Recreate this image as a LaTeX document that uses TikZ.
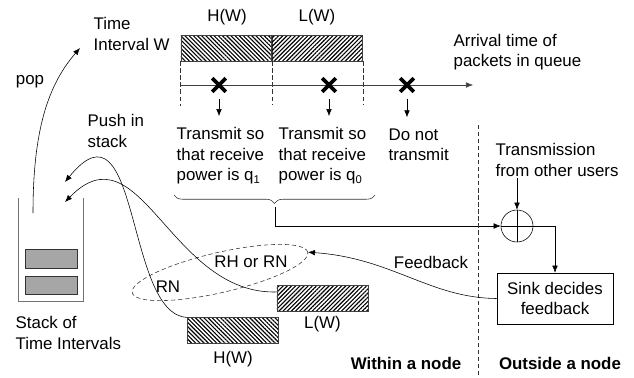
\documentclass[tikz,border=0pt]{standalone}
\usepackage{fontspec}
\setmainfont{Liberation Sans}
\usepackage{xcolor}
\usetikzlibrary{shapes.geometric, shapes.misc, arrows, positioning, calc, patterns, patterns.meta, arrows.meta, decorations.pathreplacing}

\tikzset{
    txt/.style={font=\fontsize{12}{14.6}\selectfont, inner sep=1pt, align=left},
    hatchbox/.style={draw=black!75, minimum width=2.275cm, minimum height=0.64cm, inner sep=0pt},
    hatchH/.style={hatchbox, pattern={Lines[angle=-45, distance=2.1pt, line width=0.8pt]}},
    hatchL/.style={hatchbox, pattern={Lines[angle=45, distance=2.1pt, line width=0.8pt]}},
    xmark/.style={draw, cross out, line width=2.6pt, minimum size=0.25cm, inner sep=0pt},
    dashline/.style={densely dashed, black!80},
}

\begin{document}
\begin{tikzpicture}[x=0.025cm, y=-0.025cm, >={Latex[length=5pt,width=4pt]}]
\useasboundingbox (0,0) rectangle (634,377);

% Time interval W split in H(W) and L(W)
\node[hatchH] (htop) at (226.5,48) {};
\node[hatchL] (ltop) at (317,48) {};
\node[txt] (htoplbl) at (227,17) {H(W)};
\node[txt] (ltoplbl) at (317,17) {L(W)};
\draw[dashline] (htop.south west) -- ++(0,45);
\draw[dashline] (htop.south east) -- ++(0,44);
\draw[dashline] (ltop.south east) -- ++(0,44);

% Arrival axis
\coordinate (ax0) at (181,85);
\coordinate (axend) at (473,85);
\draw[->, black!75] (ax0) -- (axend);
\node[txt, anchor=west] (arrival) at (452,52) {Arrival time of\\packets in queue};

% Arrivals and decisions
\node[xmark] (x1) at (219,85) {};
\node[xmark] (x2) at (329,85) {};
\node[xmark] (x3) at (407,85) {};
\node[txt, anchor=west] (t1) at (175,156) {Transmit so\\that receive\\power is q\textsubscript{1}};
\node[txt, anchor=west] (t2) at (277,156) {Transmit so\\that receive\\power is q\textsubscript{0}};
\node[txt, anchor=west] (t3) at (387,145) {Do not\\transmit};
\draw[->, shorten <=5pt, shorten >=7pt] (x1) -- (x1 |- t1.north);
\draw[->, shorten <=5pt, shorten >=7pt] (x2) -- (x2 |- t2.north);
\draw[->, shorten <=5pt, shorten >=7pt] (x3) -- (x3 |- t3.north);

% Brace over both transmit cases
\draw[black!80, decorate, decoration={brace, mirror, amplitude=6pt}] (174,195) -- (375,195);
\coordinate (bt) at (275,207);

% Outside a node
\node[circle, draw, minimum size=0.8cm, inner sep=0pt] (sum) at (517,226) {};
\draw (sum.north) -- (sum.south) (sum.west) -- (sum.east);
\node[txt, anchor=west] (others) at (494,160) {Transmission\\from other users};
\draw[->] (sum.north |- others.south) -- (sum.north);
\draw[->] (bt) |- (sum.west);
\node[txt, draw, align=center, minimum width=2.9cm, minimum height=1.275cm] (sink) at (555,298.5) {Sink decides\\feedback};
\draw[->] (sum.east) -| (sink.north);

% Divider
\coordinate (divtop) at (478,125);
\coordinate (divbot) at (478,377);
\draw[dashline] (divtop) -- (divbot);
\node[txt, font=\fontsize{12}{14.6}\selectfont\bfseries] (within) at (406,363) {Within a node};
\node[txt, font=\fontsize{12}{14.6}\selectfont\bfseries] (outside) at (560,363) {Outside a node};

% Feedback to node
\node[draw, dashline, ellipse, minimum width=4.5cm, minimum height=1.0cm, rotate=13, inner sep=0pt] (fb) at (220,272.5) {};
\node[txt] (rhrn) at (251,262) {RH or RN};
\node[txt] (rn) at (168,287) {RN};
\draw[->] (sink.west) .. controls (430,298) and (392,258) .. (fb.east);
\node[txt] (fblbl) at (431,262) {Feedback};

% Intervals pushed back
\node[hatchL] (llow) at (322.5,298.5) {};
\node[hatchH] (hlow) at (233,330.5) {};
\node[txt, below=2pt of llow] (llowlbl) {L(W)};
\node[txt, below=4pt of hlow] (hlowlbl) {H(W)};

% Stack
\draw[black!55] (18,198) -- (18,301) -- (83,301) -- (83,198);
\draw[fill=black!35, draw=black!80] (25,249) rectangle (77,268);
\draw[fill=black!35, draw=black!80] (25,276) rectangle (77,294);
\node[txt, anchor=west] (stacklbl) at (14,333) {Stack of\\Time Intervals};

% Pop and push
\coordinate (popst) at (33,213);
\coordinate (popend) at (80,48);
\coordinate (push1) at (65,182);
\coordinate (push2) at (65,202);
\draw[->] (popst) .. controls (33,130) and (48,85) .. (popend);
\node[txt] (poplbl) at (30,82) {pop};
\node[txt, anchor=west] (tw) at (92,34) {Time\\Interval W};
\node[txt, anchor=west] (pushlbl) at (86,131) {Push in\\stack};
\draw[->] (hlow.north west) .. controls (125,315) and (140,90) .. (push1);
\draw[->] ($(llow.north west)!0.25!(llow.south west)$) .. controls (170,295) and (140,125) .. (push2);

\end{tikzpicture}
\end{document}
